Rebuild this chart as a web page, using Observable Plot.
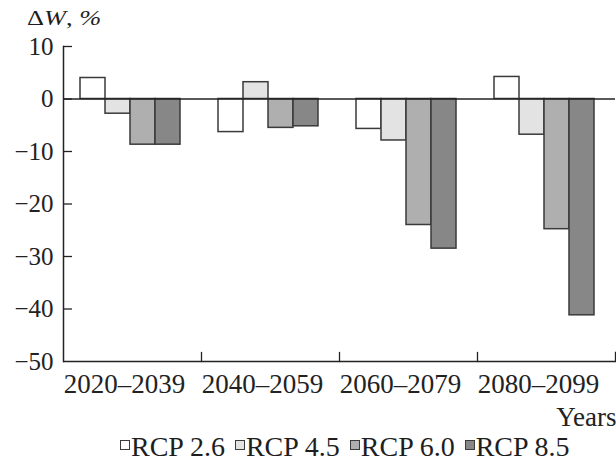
<!DOCTYPE html>
<html>
<head>
<meta charset="utf-8">
<script src="https://cdn.jsdelivr.net/npm/d3@7"></script>
<script src="https://cdn.jsdelivr.net/npm/@observablehq/plot@0.6"></script>
<style>
  body { margin: 0; background: #fff; }
  #chart { position: relative; width: 616px; height: 461px; font-family: "Liberation Serif", serif; color: #1e1e1e; }
  #title { position: absolute; left: 27px; top: 7px; font-size: 22px; line-height: 1; white-space: nowrap;
           transform: scaleX(1.2); transform-origin: left top; }
  #legend { padding-left: 120px; font-size: 28px; line-height: 33px; white-space: nowrap; }
  #legend .item { margin-right: 10px; }
  #legend .box { display: inline-block; box-sizing: border-box; width: 10px; height: 10px; border: 1px solid #3c3c3c;
                 vertical-align: 6px; margin-right: 1px; }
</style>
</head>
<body>
<div id="chart">
  <div id="plot"></div>
  <div id="legend"></div>
  <div id="title">Δ<i>W</i>, <i>%</i></div>
</div>
<script>
// Periods (groups along the x axis) and climate scenarios (bars within each group)
const periods = ["2020–2039", "2040–2059", "2060–2079", "2080–2099"];
const scenarios = ["RCP 2.6", "RCP 4.5", "RCP 6.0", "RCP 8.5"];
const fills = ["#ffffff", "#e3e3e3", "#afafaf", "#878787"];

// Change of ΔW, % per period for each scenario
const rcp26 = [4.0, -6.3, -5.7, 4.2];
const rcp45 = [-2.8, 3.2, -7.9, -6.8];
const rcp60 = [-8.7, -5.5, -24.0, -24.8];
const rcp85 = [-8.7, -5.2, -28.5, -41.2];

const yTicks = [10, 0, -10, -20, -30, -40, -50];

const series = [rcp26, rcp45, rcp60, rcp85];
const rows = [];
periods.forEach((p, i) => {
  scenarios.forEach((s, j) => rows.push({period: p, scenario: s, value: series[j][i]}));
});

const ink = "#222";
const tickLen = 9;

const chart = Plot.plot({
  width: 616,
  height: 430,
  marginLeft: 62,
  marginRight: 0,
  marginTop: 46,
  marginBottom: 69,
  style: {fontFamily: "Liberation Serif, serif", color: ink, background: "#fff", overflow: "visible"},
  fx: {domain: periods, padding: 0, label: null},
  x: {domain: scenarios, paddingInner: 0, paddingOuter: 0.74, align: 0.45, axis: null},
  y: {domain: [-50, 10], label: null},
  color: {domain: scenarios, range: fills},
  marks: [
    Plot.barY(rows, {fx: "period", x: "scenario", y: "value", fill: "scenario", stroke: "#3a3a3a", strokeWidth: 1.5}),
    Plot.ruleY([0], {stroke: ink, strokeWidth: 1.5}),
    Plot.ruleY([-50], {stroke: ink, strokeWidth: 1.5}),
    // short upward ticks separating the periods
    Plot.frame({anchor: "right", insetTop: 306, stroke: ink, strokeWidth: 1.3}),
    Plot.frame({anchor: "left", facet: "super", stroke: ink, strokeWidth: 1.5}),
    // inward y ticks (shifted right by their own length), then the labels
    Plot.axisY({ticks: yTicks.slice(0, -1), tickSize: tickLen, dx: tickLen, tickFormat: () => "", label: null, strokeWidth: 1.3}),
    Plot.axisY({ticks: yTicks, tickSize: 0, tickPadding: 10, fontSize: 25, label: null}),
    Plot.axisFx({anchor: "bottom", tickSize: 0, tickPadding: 12, dx: -8, fontSize: 27, label: null}),
    Plot.text(["Years"], {facet: "super", frameAnchor: "bottom-right", textAnchor: "end", lineAnchor: "top",
                          dx: 1, dy: 45, fontSize: 27, fill: ink})
  ]
});
document.getElementById("plot").appendChild(chart);

// Legend: swatch followed by scenario name
const legend = document.getElementById("legend");
scenarios.forEach((s, j) => {
  const item = document.createElement("span");
  item.className = "item";
  const box = document.createElement("span");
  box.className = "box";
  box.style.background = fills[j];
  item.appendChild(box);
  item.appendChild(document.createTextNode(s));
  legend.appendChild(item);
});
</script>
</body>
</html>
